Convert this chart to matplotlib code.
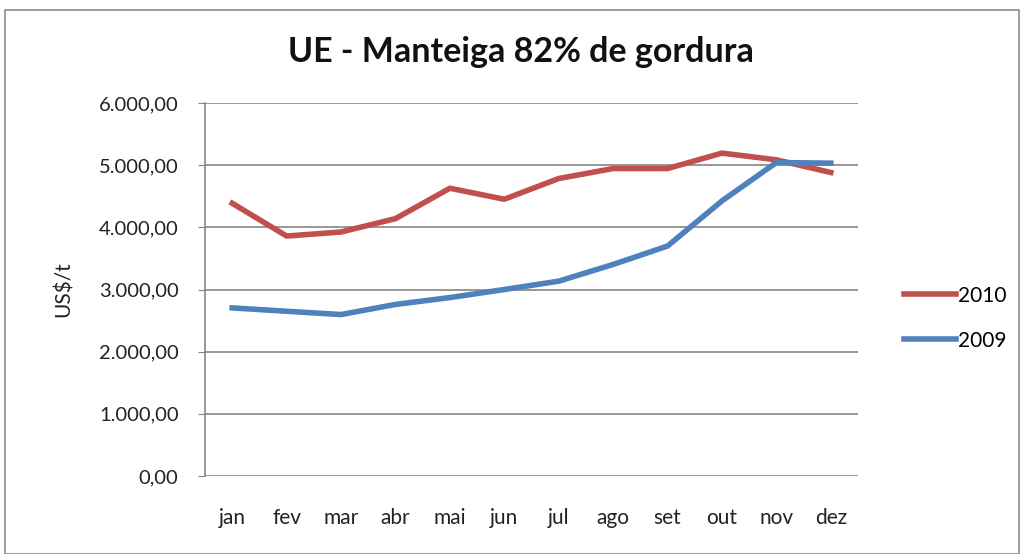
import numpy as np
import matplotlib.pyplot as plt
from matplotlib.patches import Rectangle

plt.rcParams['font.family'] = ['Lato', 'DejaVu Sans']

# Data
meses = ["jan", "fev", "mar", "abr", "mai", "jun", "jul", "ago", "set", "out", "nov", "dez"]
preco_2010 = [4387, 3860, 3925, 4140, 4629, 4452, 4785, 4946, 4946, 5194, 5086, 4882]
preco_2009 = [2704, 2650, 2597, 2760, 2870, 3000, 3134, 3403, 3699, 4425, 5043, 5032]
yticks = [0, 1000, 2000, 3000, 4000, 5000, 6000]

def fmt_br(v):
    # 6000 -> "6.000,00"
    s = f"{v:,.2f}"
    return s.replace(",", "X").replace(".", ",").replace("X", ".")

fig = plt.figure(figsize=(10.23, 5.54), dpi=100)
ax = fig.add_axes([205/1023, 1 - 476/554, (858-205)/1023, (476-103)/554])

# outer chart border
fig.patches.append(Rectangle((5/1023, 0.0), 1014/1023, 1 - 10/554, transform=fig.transFigure,
                             fill=False, edgecolor="#8c8c8c", linewidth=1.2))

x = np.arange(len(meses))
ax.plot(x, preco_2010, color="#c0504d", linewidth=4, label="2010", solid_joinstyle="round")
ax.plot(x, preco_2009, color="#4f81bd", linewidth=4, label="2009", solid_joinstyle="round")

ax.set_xlim(-0.5, 11.5)
ax.set_ylim(0, 6000)
ax.set_yticks(yticks)
ax.set_yticklabels([fmt_br(v) for v in yticks], fontsize=14.5, color="#222222")
ax.set_xticks(x)
ax.set_xticklabels(meses, fontsize=15, color="#222222")
ax.tick_params(axis="x", length=0, pad=23)
ax.tick_params(axis="y", length=5, color="#868686", pad=14)
ax.grid(axis="y", color="#868686", linewidth=1.2)
ax.set_axisbelow(True)
for side in ["top", "right", "bottom"]:
    ax.spines[side].set_visible(False)
ax.spines["left"].set_color("#868686")
ax.spines["left"].set_linewidth(1.2)

ax.set_ylabel("US$/t", fontsize=15, color="#222222", labelpad=18)
fig.text(521/1023, 1 - 52/554, "UE - Manteiga 82% de gordura", ha="center", va="center",
         fontsize=24.5, fontweight="bold", color="#111111")

fig.legend(loc="center left", bbox_to_anchor=(885/1023, 1 - 318/554), frameon=False,
           fontsize=15, handlelength=2.5, handletextpad=0.1, labelspacing=1.2)

fig.savefig("out.png", dpi=100)
